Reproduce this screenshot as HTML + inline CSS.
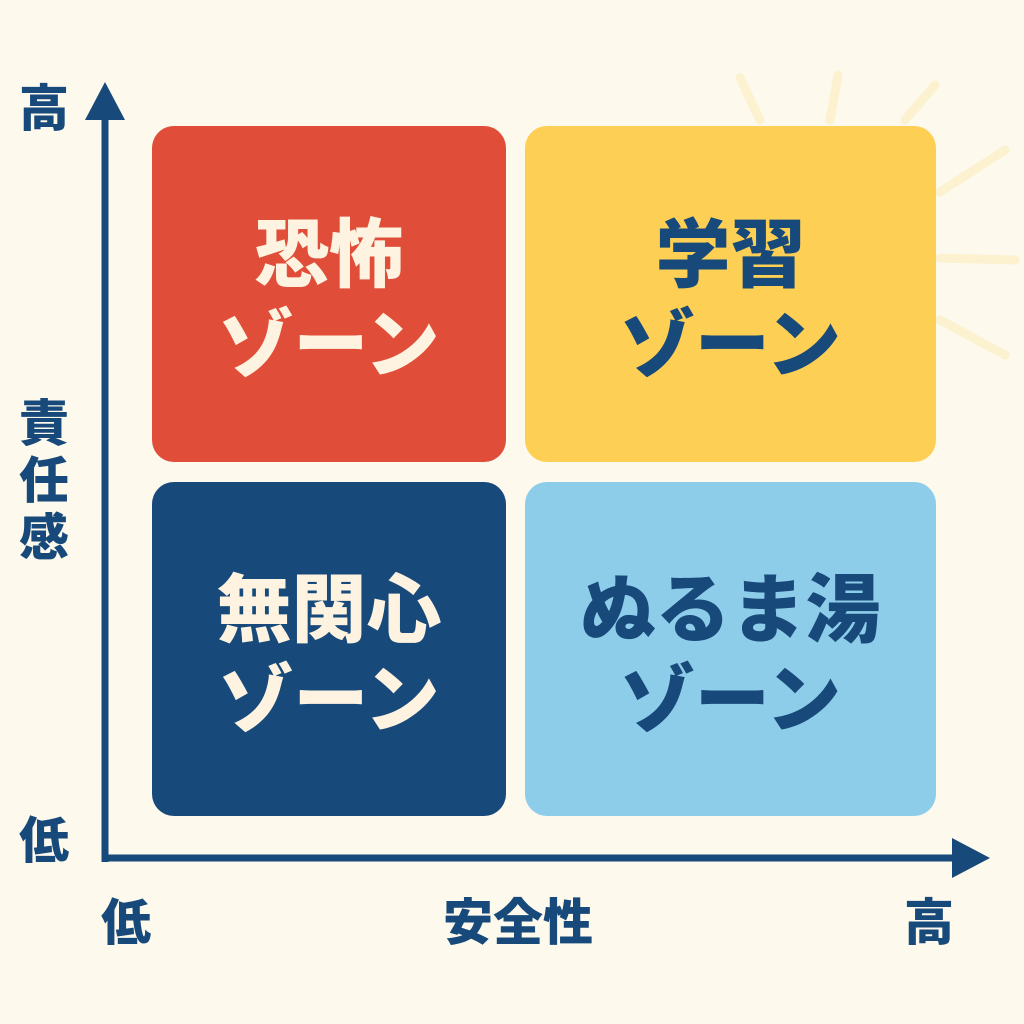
<!DOCTYPE html>
<html><head><meta charset="utf-8"><style>
body{margin:0;width:1024px;height:1024px;background:#fdf9ec;position:relative;overflow:hidden;font-family:"Liberation Sans","Noto Sans CJK JP",sans-serif;font-weight:bold}
.b{position:absolute;border-radius:22px;display:flex;flex-direction:column;align-items:center;justify-content:center;font-size:75px;line-height:90px;font-weight:900;padding-top:12px;box-sizing:border-box}
.t{position:absolute;color:#17497a;font-size:50px;font-weight:900;line-height:1}
</style></head><body>
<svg width="1024" height="1024" style="position:absolute;left:0;top:0">
<g stroke="#fbeab0" stroke-width="9" stroke-linecap="round" opacity="0.45">
<line x1="760" y1="120" x2="740" y2="78"/>
<line x1="830" y1="120" x2="838" y2="75"/>
<line x1="905" y1="120" x2="935" y2="85"/>
<line x1="940" y1="192" x2="1005" y2="150"/>
<line x1="940" y1="258" x2="1015" y2="260"/>
<line x1="940" y1="320" x2="1005" y2="355"/>
</g>
<line x1="105" y1="110" x2="105" y2="862" stroke="#17497a" stroke-width="7"/>
<polygon points="105,82 85,120 125,120" fill="#17497a"/>
<line x1="102" y1="858" x2="960" y2="858" stroke="#17497a" stroke-width="7"/>
<polygon points="990,858 952,838 952,878" fill="#17497a"/>
</svg>
<div class="b" style="left:152px;top:126px;width:354px;height:336px;background:#e04e3a;color:#fdf3e0"><div>恐怖</div><div>ゾーン</div></div>
<div class="b" style="left:525px;top:126px;width:411px;height:336px;background:#fdd055;color:#17497a"><div>学習</div><div>ゾーン</div></div>
<div class="b" style="left:152px;top:482px;width:354px;height:334px;background:#17497a;color:#fdf3e0"><div>無関心</div><div>ゾーン</div></div>
<div class="b" style="left:525px;top:482px;width:411px;height:334px;background:#8ecdea;color:#17497a"><div>ぬるま湯</div><div>ゾーン</div></div>
<div class="t" style="left:19px;top:84px">高</div>
<div class="t" style="left:19px;top:396px;line-height:57px;width:50px">責<br>任<br>感</div>
<div class="t" style="left:19px;top:816px">低</div>
<div class="t" style="left:101px;top:898px">低</div>
<div class="t" style="left:443px;top:898px">安全性</div>
<div class="t" style="left:904px;top:898px">高</div>
</body></html>
